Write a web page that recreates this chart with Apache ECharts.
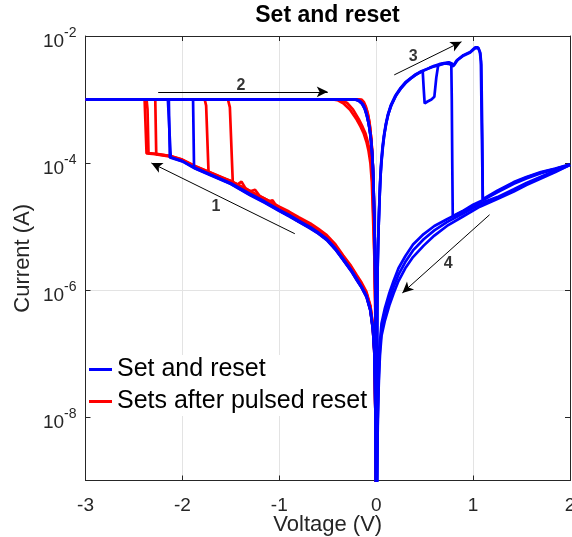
<!DOCTYPE html>
<html>
<head>
<meta charset="utf-8">
<script src="https://cdn.jsdelivr.net/npm/echarts@6/dist/echarts.min.js"></script>
<style>html,body{margin:0;padding:0;background:#fff}#c{width:572px;height:537px}</style>
</head>
<body>
<div id="c"></div>
<script>
// ---- axis ticks ----
const voltageTicks = [-3, -2, -1, 0, 1, 2];
const currentTicks = [1e-8, 1e-6, 1e-4, 1e-2];

// ---- "Set and reset" (blue), negative sweeps: [V, I] ----
const blueNeg1 = [[0,2e-10],[-0.003,6.3e-10],[-0.005,2.5e-9],[-0.008,1e-8],[-0.013,4e-8],[-0.02,1.12e-7],[-0.034,2.4e-7],[-0.06,4.8e-7],[-0.1,7.9e-7],[-0.15,1.1e-6],[-0.2,1.45e-6],[-0.26,2.04e-6],[-0.34,3.0e-6],[-0.42,4.4e-6],[-0.51,6.2e-6],[-0.6,7.9e-6],[-0.68,9.5e-6],[-0.8,1.2e-5],[-0.9,1.48e-5],[-1.0,1.78e-5],[-1.15,2.4e-5],[-1.3,3.16e-5],[-1.5,4.7e-5],[-1.71,6.5e-5],[-1.87,8.3e-5],[-2.0,1.07e-4],[-2.12,1.23e-4],[-2.15,1.0e-3],[-3,1.0e-3],[-0.22,1e-3],[-0.18,9.5e-4],[-0.15,8.7e-4],[-0.12,7.2e-4],[-0.1,5.75e-4],[-0.08,4.3e-4],[-0.06,2.8e-4],[-0.045,1.66e-4],[-0.035,9.3e-5],[-0.027,4.2e-5],[-0.02,1.58e-5],[-0.014,5e-6],[-0.009,1e-6],[-0.005,1e-7],[-0.002,3.2e-9],[0,2e-10]];
const blueNeg2 = [[0,2e-10],[-0.003,6.5e-10],[-0.005,2.6e-9],[-0.008,1.03e-8],[-0.013,4.1e-8],[-0.02,1.15e-7],[-0.034,2.5e-7],[-0.06,4.9e-7],[-0.1,8.1e-7],[-0.15,1.13e-6],[-0.2,1.5e-6],[-0.26,2.1e-6],[-0.34,3.1e-6],[-0.42,4.5e-6],[-0.51,6.4e-6],[-0.6,8.1e-6],[-0.68,9.8e-6],[-0.8,1.24e-5],[-0.9,1.52e-5],[-1.0,1.83e-5],[-1.15,2.47e-5],[-1.3,3.25e-5],[-1.5,4.8e-5],[-1.71,6.6e-5],[-1.88,8.6e-5],[-1.89,1.0e-3],[-3,1.0e-3],[-0.2,1e-3],[-0.165,9.4e-4],[-0.135,8.4e-4],[-0.11,6.8e-4],[-0.09,5.2e-4],[-0.07,3.6e-4],[-0.053,2.2e-4],[-0.04,1.25e-4],[-0.031,6.5e-5],[-0.024,2.7e-5],[-0.017,9e-6],[-0.011,2.3e-6],[-0.006,2.5e-7],[-0.002,6e-9],[0,2e-10]];
const blueNeg3 = [[0,2e-10],[-0.003,6.1e-10],[-0.005,2.4e-9],[-0.008,9.8e-9],[-0.013,3.9e-8],[-0.02,1.1e-7],[-0.034,2.35e-7],[-0.06,4.7e-7],[-0.1,7.7e-7],[-0.15,1.08e-6],[-0.2,1.42e-6],[-0.26,2.0e-6],[-0.34,2.95e-6],[-0.42,4.3e-6],[-0.51,6.1e-6],[-0.6,7.8e-6],[-0.68,9.3e-6],[-0.8,1.18e-5],[-0.9,1.45e-5],[-1.0,1.75e-5],[-1.15,2.36e-5],[-1.3,3.1e-5],[-1.5,4.65e-5],[-1.71,6.4e-5],[-1.87,8.2e-5],[-2.0,1.06e-4],[-2.13,1.22e-4],[-2.14,1.0e-3],[-3,1.0e-3],[-0.21,1e-3],[-0.175,9.5e-4],[-0.145,8.6e-4],[-0.115,7.0e-4],[-0.095,5.5e-4],[-0.075,4.0e-4],[-0.057,2.6e-4],[-0.043,1.5e-4],[-0.033,8.2e-5],[-0.026,3.7e-5],[-0.019,1.35e-5],[-0.013,4e-6],[-0.008,7e-7],[-0.004,6e-8],[-0.001,2e-9],[0,2e-10]];

// ---- blue, positive sweeps ----
const bluePos1 = [[0,2e-10],[0.003,1e-9],[0.006,2.5e-8],[0.01,5e-7],[0.015,2.5e-6],[0.02,6.3e-6],[0.03,1.9e-5],[0.04,5e-5],[0.05,9.5e-5],[0.065,1.78e-4],[0.08,2.75e-4],[0.1,4.2e-4],[0.12,5.75e-4],[0.15,8.1e-4],[0.2,1.17e-3],[0.25,1.51e-3],[0.3,1.86e-3],[0.35,2.14e-3],[0.4,2.45e-3],[0.45,2.7e-3],[0.48,2.8e-3],[0.49,1.5e-3],[0.5,8.7e-4],[0.53,9.3e-4],[0.57,1.0e-3],[0.6,1.1e-3],[0.62,2.2e-3],[0.64,3.5e-3],[0.68,3.65e-3],[0.71,3.7e-3],[0.76,3.6e-3],[0.79,3.3e-3],[0.83,4.1e-3],[0.9,5.0e-3],[0.97,5.6e-3],[1.02,6.6e-3],[1.05,6.6e-3],[1.07,5.6e-3],[1.08,4.0e-3],[1.09,3e-4],[1.1,2.6e-5],[1.25,3.55e-5],[1.42,4.9e-5],[1.55,5.9e-5],[1.7,7.1e-5],[1.85,8.1e-5],[2.0,9.3e-5],[1.85,7.4e-5],[1.7,5.9e-5],[1.55,4.7e-5],[1.42,3.7e-5],[1.25,2.8e-5],[1.07,2.24e-5],[0.9,1.62e-5],[0.73,1.17e-5],[0.6,8.7e-6],[0.49,6.3e-6],[0.38,4.2e-6],[0.3,2.75e-6],[0.23,1.74e-6],[0.18,1.12e-6],[0.135,7.1e-7],[0.09,4.2e-7],[0.055,2.4e-7],[0.04,1.26e-7],[0.032,7.2e-8],[0.024,3.2e-8],[0.017,1.17e-8],[0.012,3.2e-9],[0.008,6.3e-10],[0.004,2e-10]];
const bluePos2 = [[0,2e-10],[0.004,1.2e-9],[0.007,3e-8],[0.011,6e-7],[0.016,2.8e-6],[0.022,7e-6],[0.032,2.1e-5],[0.043,5.5e-5],[0.054,1.0e-4],[0.07,1.85e-4],[0.085,2.85e-4],[0.105,4.3e-4],[0.125,5.9e-4],[0.16,8.4e-4],[0.21,1.2e-3],[0.26,1.53e-3],[0.31,1.88e-3],[0.36,2.17e-3],[0.41,2.47e-3],[0.46,2.75e-3],[0.52,3.0e-3],[0.58,3.25e-3],[0.64,3.45e-3],[0.7,3.65e-3],[0.75,3.8e-3],[0.775,3.7e-3],[0.78,1.0e-3],[0.785,1e-4],[0.79,1.45e-5],[0.9,1.78e-5],[1.0,2.2e-5],[1.1,2.6e-5],[1.25,3.45e-5],[1.42,4.7e-5],[1.55,5.7e-5],[1.7,6.9e-5],[1.85,8.0e-5],[2.0,9.4e-5],[1.85,7.2e-5],[1.7,5.7e-5],[1.55,4.5e-5],[1.42,3.55e-5],[1.25,2.7e-5],[1.07,2.05e-5],[0.9,1.45e-5],[0.73,1.02e-5],[0.6,7.2e-6],[0.49,5.0e-6],[0.38,3.3e-6],[0.3,2.2e-6],[0.23,1.38e-6],[0.18,8.9e-7],[0.135,5.7e-7],[0.09,3.3e-7],[0.055,1.9e-7],[0.04,1.0e-7],[0.032,5.7e-8],[0.024,2.5e-8],[0.017,9e-9],[0.012,2.5e-9],[0.008,5e-10],[0.004,2e-10]];
const bluePos3 = [[0,2e-10],[0.003,8e-10],[0.006,2e-8],[0.01,4e-7],[0.015,2.2e-6],[0.02,5.5e-6],[0.03,1.7e-5],[0.04,4.5e-5],[0.05,8.8e-5],[0.065,1.65e-4],[0.08,2.6e-4],[0.1,4.0e-4],[0.12,5.5e-4],[0.15,7.8e-4],[0.2,1.13e-3],[0.25,1.47e-3],[0.3,1.8e-3],[0.35,2.1e-3],[0.4,2.4e-3],[0.45,2.65e-3],[0.5,2.9e-3],[0.55,3.15e-3],[0.6,3.4e-3],[0.65,3.6e-3],[0.7,3.75e-3],[0.75,3.85e-3],[0.78,3.7e-3],[0.8,3.4e-3],[0.84,4.2e-3],[0.9,4.9e-3],[0.97,5.5e-3],[1.02,6.4e-3],[1.055,6.5e-3],[1.075,5.3e-3],[1.085,3.5e-3],[1.095,2.5e-4],[1.1,2.7e-5],[1.25,3.65e-5],[1.42,5.0e-5],[1.55,6.0e-5],[1.7,7.2e-5],[1.85,8.2e-5],[2.0,9.5e-5],[1.85,7.6e-5],[1.7,6.1e-5],[1.55,4.85e-5],[1.42,3.85e-5],[1.25,2.9e-5],[1.07,2.3e-5],[0.9,1.75e-5],[0.73,1.3e-5],[0.6,1.02e-5],[0.49,7.6e-6],[0.38,5.2e-6],[0.3,3.4e-6],[0.23,2.2e-6],[0.18,1.4e-6],[0.135,8.9e-7],[0.09,5.2e-7],[0.055,3.0e-7],[0.04,1.6e-7],[0.032,9e-8],[0.024,4e-8],[0.017,1.5e-8],[0.012,4e-9],[0.008,8e-10],[0.004,2e-10]];

// ---- "Sets after pulsed reset" (red), negative sweeps ----
const redNeg1 = [[0,2e-10],[-0.003,7e-10],[-0.005,2.8e-9],[-0.008,1.1e-8],[-0.013,4.4e-8],[-0.02,1.23e-7],[-0.034,2.65e-7],[-0.06,5.3e-7],[-0.1,8.7e-7],[-0.15,1.21e-6],[-0.2,1.6e-6],[-0.26,2.25e-6],[-0.34,3.3e-6],[-0.42,4.85e-6],[-0.51,6.8e-6],[-0.6,8.7e-6],[-0.68,1.05e-5],[-0.8,1.32e-5],[-0.9,1.63e-5],[-1.0,1.96e-5],[-1.15,2.64e-5],[-1.3,3.48e-5],[-1.5,5.1e-5],[-1.71,7.0e-5],[-1.87,8.9e-5],[-2.0,1.12e-4],[-2.12,1.28e-4],[-2.25,1.37e-4],[-2.37,1.42e-4],[-2.39,1e-3],[-3,1e-3],[-0.19,1e-3],[-0.16,9.5e-4],[-0.13,8.5e-4],[-0.11,7.3e-4],[-0.09,5.8e-4],[-0.07,4.1e-4],[-0.05,2.3e-4],[-0.038,1.2e-4],[-0.03,5.4e-5],[-0.022,1.8e-5],[-0.016,6e-6],[-0.01,1.2e-6],[-0.006,1.5e-7],[-0.002,4e-9],[0,2e-10]];
const redNeg2 = [[0,2e-10],[-0.003,7.4e-10],[-0.005,3e-9],[-0.008,1.18e-8],[-0.013,4.7e-8],[-0.02,1.32e-7],[-0.034,2.8e-7],[-0.06,5.7e-7],[-0.1,9.3e-7],[-0.15,1.3e-6],[-0.2,1.71e-6],[-0.26,2.4e-6],[-0.34,3.5e-6],[-0.42,5.2e-6],[-0.51,7.3e-6],[-0.6,9.3e-6],[-0.68,1.12e-5],[-0.8,1.4e-5],[-0.9,1.72e-5],[-1.0,2.05e-5],[-1.15,2.75e-5],[-1.3,3.6e-5],[-1.5,5.2e-5],[-1.71,7.1e-5],[-1.87,9.0e-5],[-2.0,1.13e-4],[-2.12,1.29e-4],[-2.25,1.38e-4],[-2.35,1.43e-4],[-2.36,7e-4],[-2.37,1e-3],[-3,1e-3],[-0.45,1e-3],[-0.4,9.8e-4],[-0.34,8.7e-4],[-0.27,6.9e-4],[-0.2,4.8e-4],[-0.16,3.7e-4],[-0.13,2.95e-4],[-0.1,2.14e-4],[-0.08,1.58e-4],[-0.06,1e-4],[-0.045,5e-5],[-0.034,1.62e-5],[-0.025,6.3e-6],[-0.017,2.7e-6],[-0.01,5e-7],[-0.005,6.3e-8],[-0.002,3.2e-9],[0,2e-10]];
const redNeg3 = [[0,2e-10],[-0.003,6.5e-10],[-0.005,2.6e-9],[-0.008,1.04e-8],[-0.013,4.2e-8],[-0.02,1.16e-7],[-0.034,2.5e-7],[-0.06,5e-7],[-0.1,8.2e-7],[-0.15,1.14e-6],[-0.2,1.5e-6],[-0.26,2.12e-6],[-0.34,3.1e-6],[-0.42,4.6e-6],[-0.51,6.45e-6],[-0.6,8.2e-6],[-0.68,9.9e-6],[-0.8,1.25e-5],[-0.9,1.54e-5],[-1.0,1.85e-5],[-1.15,2.5e-5],[-1.3,3.3e-5],[-1.5,4.9e-5],[-1.71,6.75e-5],[-1.87,8.6e-5],[-2.0,1.1e-4],[-2.12,1.26e-4],[-2.27,1.36e-4],[-2.28,1e-3],[-3,1e-3],[-0.17,1e-3],[-0.14,9.3e-4],[-0.115,8e-4],[-0.095,6.6e-4],[-0.075,4.8e-4],[-0.058,3e-4],[-0.043,1.6e-4],[-0.033,7.5e-5],[-0.025,2.8e-5],[-0.018,9e-6],[-0.012,2.2e-6],[-0.007,2.8e-7],[-0.003,1e-8],[0,2e-10]];
const redNeg4 = [[0,2e-10],[-0.003,7e-10],[-0.005,2.8e-9],[-0.008,1.12e-8],[-0.013,4.5e-8],[-0.02,1.25e-7],[-0.034,2.7e-7],[-0.06,5.4e-7],[-0.1,8.8e-7],[-0.15,1.23e-6],[-0.2,1.62e-6],[-0.26,2.3e-6],[-0.34,3.36e-6],[-0.42,4.9e-6],[-0.51,6.9e-6],[-0.6,8.8e-6],[-0.68,1.06e-5],[-0.8,1.34e-5],[-0.9,1.66e-5],[-1.0,2.0e-5],[-1.15,2.7e-5],[-1.3,3.5e-5],[-1.5,5.2e-5],[-1.73,6.9e-5],[-1.755,8e-4],[-1.77,1e-3],[-3,1e-3],[-0.4,1e-3],[-0.36,9.8e-4],[-0.3,8.8e-4],[-0.24,7e-4],[-0.18,4.9e-4],[-0.14,3.7e-4],[-0.11,2.9e-4],[-0.085,2.1e-4],[-0.066,1.5e-4],[-0.05,9.5e-5],[-0.038,4.5e-5],[-0.029,1.5e-5],[-0.021,5.5e-6],[-0.014,2e-6],[-0.008,4e-7],[-0.004,5e-8],[-0.001,2e-9],[0,2e-10]];
const redNeg5 = [[0,2e-10],[-0.003,6.3e-10],[-0.005,2.5e-9],[-0.008,1e-8],[-0.013,4e-8],[-0.02,1.12e-7],[-0.034,2.4e-7],[-0.06,4.8e-7],[-0.1,7.9e-7],[-0.15,1.1e-6],[-0.2,1.45e-6],[-0.26,2.04e-6],[-0.34,3.0e-6],[-0.42,4.4e-6],[-0.51,6.2e-6],[-0.6,7.9e-6],[-0.68,9.5e-6],[-0.8,1.2e-5],[-0.9,1.48e-5],[-1.0,1.78e-5],[-1.07,2.6e-5],[-1.1,2.5e-5],[-1.2,3.0e-5],[-1.25,3.8e-5],[-1.3,3.6e-5],[-1.35,4.0e-5],[-1.39,5.1e-5],[-1.43,4.6e-5],[-1.48,4.9e-5],[-1.51,7.5e-4],[-1.53,1e-3],[-3,1e-3],[-0.15,1e-3],[-0.125,9e-4],[-0.105,7.6e-4],[-0.085,5.9e-4],[-0.065,3.9e-4],[-0.048,2.1e-4],[-0.036,1e-4],[-0.027,4e-5],[-0.02,1.3e-5],[-0.014,3.5e-6],[-0.008,5e-7],[-0.004,3e-8],[0,2e-10]];

// ---- annotations: arrows [start, tip] and numbered labels ----
const annotationArrows = [
  [[-0.84, 7.7e-6], [-2.32, 1.0e-4]],
  [[-2.25, 1.32e-3], [-0.50, 1.32e-3]],
  [[0.186, 2.44e-3], [0.88, 8.1e-3]],
  [[1.17, 1.53e-5], [0.27, 9.0e-7]]
];
const annotationLabels = [[-1.655, 2.07e-5, '1'], [-1.397, 1.67e-3, '2'], [0.382, 4.72e-3, '3'], [0.743, 2.59e-6, '4']];

const BLUE_NAME = 'Set and reset';
const RED_NAME = 'Sets after pulsed reset';
const blueCurves = [blueNeg1, blueNeg2, blueNeg3, bluePos1, bluePos2, bluePos3];
const redCurves = [redNeg1, redNeg2, redNeg3, redNeg4, redNeg5];

const FONT = "'Liberation Sans', Arial, Helvetica, sans-serif";
const AX = '#262626';
const GRID = '#e3e3e3';

function curve(name, color, data, z) {
  return {
    name, type: 'line', data, color, z,
    showSymbol: false, symbol: 'none', clip: true, silent: true,
    lineStyle: { color, width: 2.7 },
    emphasis: { disabled: true }, animation: false
  };
}

const series = [];
redCurves.forEach(d => series.push(curve(RED_NAME, '#ff0000', d, 2)));
blueCurves.forEach(d => series.push(curve(BLUE_NAME, '#0000ff', d, 3)));
series.push({
  type: 'scatter', silent: true, z: 5,
  data: annotationLabels.map(l => [l[0], l[1], l[2]]),
  symbol: 'circle', symbolSize: 1, itemStyle: { color: 'rgba(0,0,0,0)' },
  label: { show: true, position: 'inside', formatter: p => p.value[2],
           fontSize: 16, fontWeight: 'bold', color: '#000', fontFamily: FONT },
  markLine: {
    silent: true, animation: false,
    symbol: ['none', 'arrow'], symbolSize: [8, 11],
    label: { show: false },
    lineStyle: { color: '#000', width: 1, type: 'solid' },
    emphasis: { disabled: true },
    data: annotationArrows.map(a => [{ coord: a[0] }, { coord: a[1] }])
  }
});

const axisLineStyle = { color: AX, width: 1 };
const chart = echarts.init(document.getElementById('c'), null, { renderer: 'canvas' });
chart.setOption({
  animation: false,
  backgroundColor: '#fff',
  title: {
    text: 'Set and reset', left: 327.5, textAlign: 'center', top: 4, padding: 0,
    textStyle: { fontSize: 23, fontWeight: 'bold', color: '#000', fontFamily: FONT }
  },
  legend: {
    data: [BLUE_NAME, RED_NAME], orient: 'vertical', left: 86, top: 355,
    icon: 'rect', itemWidth: 23, itemHeight: 3, itemGap: 7,
    backgroundColor: '#fff', padding: [2, 4, 2, 3], selectedMode: false,
    textStyle: { fontSize: 25, lineHeight: 25, color: '#000', fontFamily: FONT }
  },
  grid: { left: 85.5, right: 2, top: 36, bottom: 56.5, outerBoundsMode: 'none', containLabel: false },
  xAxis: [{
    type: 'value', min: voltageTicks[0], max: voltageTicks[voltageTicks.length - 1], interval: 1,
    position: 'bottom',
    axisLine: { show: true, onZero: false, lineStyle: axisLineStyle },
    axisTick: { show: true, inside: true, length: 5, lineStyle: axisLineStyle },
    axisLabel: { fontSize: 19, color: AX, margin: 16, fontFamily: FONT,
                 formatter: v => (v < 0 ? '-' + Math.abs(v) : String(v)) },
    splitLine: { show: true, lineStyle: { color: GRID, width: 1 } },
    name: 'Voltage (V)', nameLocation: 'middle', nameGap: 33, nameMoveOverlap: false,
    nameTextStyle: { fontSize: 22, color: AX, fontFamily: FONT }
  }, {
    type: 'value', min: voltageTicks[0], max: voltageTicks[voltageTicks.length - 1], interval: 1,
    position: 'top',
    axisLine: { show: true, onZero: false, lineStyle: axisLineStyle },
    axisTick: { show: true, inside: true, length: 5, lineStyle: axisLineStyle },
    axisLabel: { show: false }, splitLine: { show: false }
  }],
  yAxis: [{
    type: 'log', logBase: 10, min: 1e-9, max: 1e-2, position: 'left',
    axisLine: { show: true, onZero: false, lineStyle: axisLineStyle },
    axisTick: { show: true, inside: true, length: 5, lineStyle: axisLineStyle, customValues: currentTicks },
    axisLabel: {
      customValues: currentTicks, margin: 9, color: AX, fontFamily: FONT,
      formatter: v => {
        const e = Math.round(Math.log10(v));
        return '{b|10}{s|' + (e < 0 ? '-' : '') + Math.abs(e) + '}';
      },
      rich: {
        b: { fontSize: 19, color: AX, fontFamily: FONT, padding: [12, 0, 0, 0] },
        s: { fontSize: 14, color: AX, fontFamily: FONT, padding: [0, 0, 6, 0] }
      }
    },
    splitLine: { show: true, lineStyle: { color: ['rgba(0,0,0,0)', GRID], width: 1 } },
    name: 'Current (A)', nameLocation: 'middle', nameGap: 52, nameMoveOverlap: false,
    nameTextStyle: { fontSize: 22, color: AX, fontFamily: FONT }
  }, {
    type: 'log', logBase: 10, min: 1e-9, max: 1e-2, position: 'right',
    axisLine: { show: true, onZero: false, lineStyle: axisLineStyle },
    axisTick: { show: true, inside: true, length: 5, lineStyle: axisLineStyle, customValues: currentTicks },
    axisLabel: { show: false }, splitLine: { show: false }
  }],
  series
});
</script>
</body>
</html>
